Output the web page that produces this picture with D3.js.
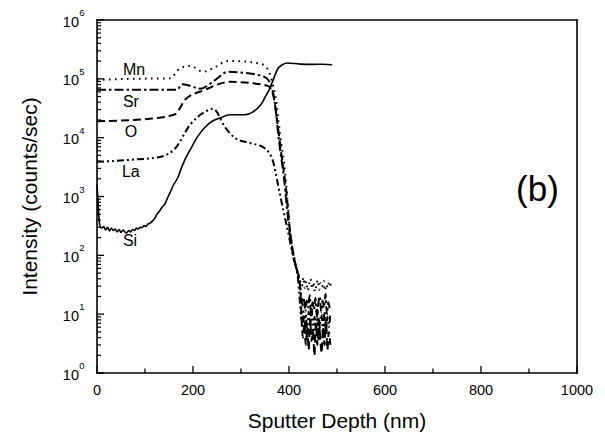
<!DOCTYPE html>
<html>
<head>
<meta charset="utf-8">
<script src="https://cdn.jsdelivr.net/npm/d3@7"></script>
</head>
<body style="margin:0">
<svg id="chart" width="605" height="436" style="display:block" font-family="Arial, 'Liberation Sans', sans-serif"></svg>
<script>
// depth profile data (nm, counts/sec)
var mnDepth  = [0, 69, 152, 173, 194, 221, 246, 271, 292, 333, 350, 365, 373, 381, 392, 402, 412, 423,
                427, 430, 433, 436, 439, 442, 445, 448, 451, 454, 457, 460, 463, 466, 469, 472, 475, 478, 481, 484, 487];
var mnCounts = [96000, 100000, 102000, 151000, 166000, 132000, 158000, 200000, 200000, 186000, 166000, 89000, 44000, 12000, 2500, 270, 83, 38,
                30, 42, 28, 36, 25, 33, 40, 27, 35, 24, 31, 38, 26, 34, 29, 37, 25, 32, 28, 36, 30];

var srDepth  = [0, 80, 167, 177, 194, 215, 246, 273, 308, 350, 363, 371, 379, 390, 400, 410, 421,
                425, 428, 431, 434, 437, 440, 443, 446, 449, 452, 455, 458, 461, 464, 467, 470, 473, 476, 479, 482, 485];
var srCounts = [65000, 65000, 65000, 81000, 76000, 68000, 95000, 132000, 126000, 107000, 76000, 36000, 9100, 1900, 290, 89, 38,
                22, 14, 19, 11, 17, 13, 21, 10, 16, 12, 19, 9, 15, 20, 11, 17, 13, 22, 10, 16, 12];

var oDepth  = [0, 110, 163, 173, 183, 225, 277, 319, 356, 367, 375, 383, 394, 402, 412, 423,
               426, 429, 432, 435, 438, 441, 444, 447, 450, 453, 456, 459, 462, 465, 468, 471, 474, 477, 480, 483, 486];
var oCounts = [19000, 21000, 25000, 32000, 44000, 65000, 89000, 85000, 76000, 54000, 20000, 6200, 1300, 270, 78, 32,
               9, 4, 7, 3, 6, 2.5, 8, 3.5, 5, 2, 7, 3, 9, 4, 2.2, 6, 3, 8, 2.5, 5, 3];

var laDepth  = [0, 69, 131, 163, 194, 225, 242, 267, 288, 319, 346, 356, 367, 377, 388, 398, 408, 419,
                423, 426, 429, 432, 435, 438, 441, 444, 447, 450, 453, 456, 459, 462, 465, 468, 471, 474, 477, 480, 483, 486];
var laCounts = [3900, 4200, 4700, 6600, 16600, 27500, 31000, 15000, 9800, 8100, 6900, 5900, 3900, 1600, 590, 250, 100, 38,
                15, 8, 12, 5, 10, 4, 11, 6, 13, 4.5, 9, 5, 12, 3.5, 8, 10, 4, 11, 5, 9, 6, 10];

var siDepth  = [0, 2, 5, 6, 10, 14, 18, 22, 26, 30, 34, 38, 42, 46, 50, 54, 58, 62, 66, 70, 74, 78, 82, 86, 90, 94, 98, 102, 106, 110,
                115, 120, 125, 130, 135, 142, 147, 152, 160, 169, 176, 183, 194, 210, 225, 240, 256, 277, 308, 325,
                335, 344, 352, 360, 368, 377, 387, 396, 423, 450, 470, 490];
var siCounts = [1600, 870, 360, 320, 290, 310, 270, 300, 260, 290, 265, 280, 250, 275, 245, 270, 250, 240, 265, 250, 275, 265, 290, 280, 300, 295, 320, 310, 340, 350,
                380, 420, 500, 560, 650, 760, 950, 1150, 1600, 2150, 3100, 4200, 6200, 10500, 15000, 19000, 21500, 24500, 24500, 27500,
                32000, 39000, 52000, 69000, 100000, 150000, 175000, 186000, 178000, 176000, 177000, 174000];

var xTicks = [0, 200, 400, 600, 800, 1000];
var xMinor = [100, 300, 500, 700, 900];
var yDecades = [0, 1, 2, 3, 4, 5, 6];

// label anchors: [name, depth, counts]
var elemLabels = [ ["Mn", 54, 117000], ["Sr", 54, 33000], ["O", 58, 10200], ["La", 52, 2150], ["Si", 54, 145] ];

var seriesList = [
    { name: "Mn", depth: mnDepth, counts: mnCounts },
    { name: "Sr", depth: srDepth, counts: srCounts },
    { name: "O",  depth: oDepth,  counts: oCounts },
    { name: "La", depth: laDepth, counts: laCounts },
    { name: "Si", depth: siDepth, counts: siCounts }
];
var dashes = { Mn: "1.6,4.4", Sr: "9,3,2.5,3", O: "8,4", La: "7,3,2,3,2,3", Si: "none" };

var m = { l: 97, t: 20, w: 480, h: 353 };
var svg = d3.select( "#chart" );
var g = svg.append( "g" ).attr( "transform", "translate(" + m.l + "," + m.t + ")" );

var x = d3.scaleLinear().domain( [0, 1000] ).range( [0, m.w] );
var y = d3.scaleLog().domain( [1, 1e6] ).range( [m.h, 0] );

var majors = yDecades.map( e => Math.pow(10, e) );
var minors = [];
yDecades.slice(0, -1).forEach( e => { for (var k = 2; k < 10; k++) minors.push( k * Math.pow(10, e) ); } );

// frame: four sides from the scale ranges
var sides = [ [x(0), y(1), x(1000), y(1)], [x(0), y(1e6), x(1000), y(1e6)],
              [x(0), y(1), x(0), y(1e6)], [x(1000), y(1), x(1000), y(1e6)] ];
g.selectAll( "line.frame" ).data( sides ).enter()
    .append( "line" ).attr( "class", "frame" )
    .attr( "x1", d=>d[0] ).attr( "y1", d=>d[1] ).attr( "x2", d=>d[2] ).attr( "y2", d=>d[3] )
    .attr( "stroke", "black" ).attr( "stroke-width", 1.6 ).attr( "stroke-linecap", "square" );

// inward ticks drawn as plain lines
g.selectAll( "line.xmaj" ).data( xTicks ).enter().append( "line" ).attr( "class", "xmaj" )
    .attr( "x1", d=>x(d) ).attr( "x2", d=>x(d) ).attr( "y1", m.h ).attr( "y2", m.h - 7 )
    .attr( "stroke", "black" ).attr( "stroke-width", 1.3 );
g.selectAll( "line.xmin" ).data( xMinor ).enter().append( "line" ).attr( "class", "xmin" )
    .attr( "x1", d=>x(d) ).attr( "x2", d=>x(d) ).attr( "y1", m.h ).attr( "y2", m.h - 4.5 )
    .attr( "stroke", "black" ).attr( "stroke-width", 1.3 );
g.selectAll( "line.ymaj" ).data( majors ).enter().append( "line" ).attr( "class", "ymaj" )
    .attr( "x1", 0 ).attr( "x2", 7 ).attr( "y1", d=>y(d) ).attr( "y2", d=>y(d) )
    .attr( "stroke", "black" ).attr( "stroke-width", 1.3 );
g.selectAll( "line.ymin" ).data( minors ).enter().append( "line" ).attr( "class", "ymin" )
    .attr( "x1", 0 ).attr( "x2", 4 ).attr( "y1", d=>y(d) ).attr( "y2", d=>y(d) )
    .attr( "stroke", "black" ).attr( "stroke-width", 1.2 );

var lineGen = d3.line().x( d=>x(d[0]) ).y( d=>y(d[1]) ).curve( d3.curveMonotoneX );

g.selectAll( "path.series" ).data( seriesList ).enter()
    .append( "path" ).attr( "class", "series" )
    .attr( "d", s => lineGen( s.depth.map( (d,i) => [d, s.counts[i]] ) ) )
    .attr( "fill", "none" ).attr( "stroke", "#000" )
    .attr( "stroke-width", s => s.name == "Si" ? 1.6 : 2 )
    .attr( "stroke-dasharray", s => dashes[s.name] );

// x tick labels
g.selectAll( "text.xlab" ).data( xTicks ).enter().append( "text" ).attr( "class", "xlab" )
    .attr( "x", d=>x(d) ).attr( "y", m.h + 22 ).attr( "text-anchor", "middle" )
    .attr( "font-size", 14.5 ).text( d => String(d) );

// y tick labels, 10 with superscript exponent
var ylab = g.selectAll( "g.ylab" ).data( majors ).enter().append( "g" ).attr( "class", "ylab" )
    .attr( "transform", d => "translate(0," + y(d) + ")" );
ylab.append( "text" ).attr( "x", -18 ).attr( "dy", "0.45em" ).attr( "text-anchor", "end" )
    .attr( "font-size", 14.5 ).text( "10" );
ylab.append( "text" ).attr( "x", -12.5 ).attr( "y", -4 ).attr( "text-anchor", "end" )
    .attr( "font-size", 9.5 ).text( d => Math.round(Math.log10(d)) );

// element labels
g.selectAll( "text.lbl" ).data( elemLabels ).enter()
    .append( "text" ).attr( "class", "lbl" )
    .attr( "x", d=>x(d[1]) ).attr( "y", d=>y(d[2]) )
    .attr( "font-size", 16 ).text( d=>d[0] );

g.append( "text" ).attr( "x", x(873) ).attr( "y", y(840) )
    .attr( "font-size", 35 ).text( "(b)" );

// axis titles
svg.append( "text" ).attr( "x", m.l + m.w/2 ).attr( "y", 428 )
    .attr( "text-anchor", "middle" ).attr( "font-size", 21 ).text( "Sputter Depth (nm)" );
svg.append( "text" ).attr( "transform", "translate(37," + (m.t + m.h/2) + ") rotate(-90)" )
    .attr( "text-anchor", "middle" ).attr( "font-size", 21 ).text( "Intensity (counts/sec)" );
</script>
</body>
</html>
